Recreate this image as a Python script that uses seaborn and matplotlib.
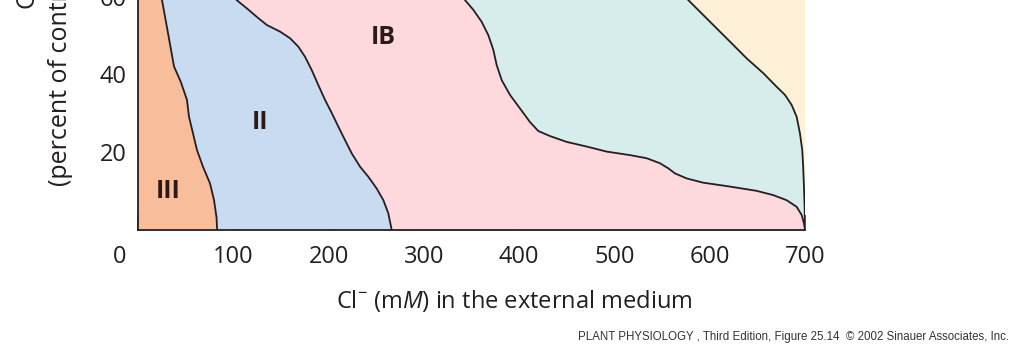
import matplotlib.pyplot as plt
import seaborn as sns
from matplotlib.transforms import ScaledTranslation

# x = Cl- (mM) in the external medium, y = growth (percent of control)
b1_x = [83.0, 82.5, 79.8, 75.6, 68.2, 61.9, 57.7, 53.5, 51.4, 45.0, 37.8, 31.5, 25.2, 24.3]
b1_y = [0.0, 3.0, 7.6, 11.9, 16.2, 20.5, 24.8, 29.1, 33.4, 38.0, 42.0, 50.6, 59.1, 60.0]

b2_x = [266.2, 262.7, 257.5, 250.5, 241.8, 233.1, 224.4, 217.4, 210.3, 203.4, 196.3,
        189.3, 182.3, 175.3, 168.3, 159.5, 149.0, 135.1, 124.6, 114.1, 103.6, 100.5]
b2_y = [0.0, 4.2, 7.6, 10.6, 13.6, 16.2, 19.6, 23.0, 26.5, 30.0, 33.4,
        37.2, 41.1, 44.5, 47.1, 49.3, 51.0, 52.7, 54.8, 57.0, 59.1, 60.0]

b3_x = [700.0, 698.9, 696.5, 691.2, 680.7, 666.7, 649.3, 621.3, 593.2, 575.8, 563.5,
        556.5, 547.8, 533.8, 516.3, 491.9, 470.9, 449.9, 432.4, 420.1, 411.4, 400.9,
        390.4, 381.7, 376.4, 372.9, 367.6, 360.7, 351.9, 343.2, 340.5]
b3_y = [0.0, 1.6, 3.8, 5.9, 7.6, 8.9, 10.0, 11.1, 12.1, 13.2, 14.5,
        15.8, 17.1, 18.4, 19.2, 20.1, 21.4, 22.6, 24.1, 25.4, 27.7, 31.2,
        34.7, 38.5, 42.4, 46.3, 50.1, 53.5, 56.6, 59.1, 60.0]

b4_x = [700.0, 699.6, 698.9, 698.1, 697.1, 694.7, 691.2, 686.0, 679.0, 670.2,
        656.2, 638.8, 621.3, 603.7, 589.8, 577.5, 574.0]
b4_y = [0.0, 5.9, 11.1, 16.2, 20.5, 24.8, 29.1, 32.1, 34.7, 36.8,
        40.3, 44.1, 48.4, 52.7, 56.1, 59.1, 60.0]

region_names = ["III", "II", "IB", "", ""]
region_colors = ["#F8BD9A", "#C9DBF1", "#FDD8DD", "#D6EDEC", "#FFF1D8"]

x_ticks = [0, 100, 200, 300, 400, 500, 600, 700]
y_ticks = [20, 40, 60]

ink = "#231f20"

sns.set_theme(style="ticks")
plt.rcParams["font.family"] = ["Open Sans", "DejaVu Sans"]
plt.rcParams["mathtext.fontset"] = "custom"
plt.rcParams["mathtext.rm"] = "Open Sans"
plt.rcParams["mathtext.it"] = "Open Sans:italic"

fig = plt.figure(figsize=(10.24, 3.54), dpi=100)
ax = fig.add_axes([138 / 1024, (354 - 229.7) / 354, 667 / 1024, 233.1 / 354])

# filled regions, each between two neighbouring boundaries
x_top, y_top = 700, 60
bounds = [([0, 0], [0, y_top]), (b1_x, b1_y), (b2_x, b2_y), (b3_x, b3_y),
          (b4_x, b4_y), ([x_top, x_top], [0, y_top])]
for i, col in enumerate(region_colors):
    lx, ly = bounds[i]
    rx, ry = bounds[i + 1]
    ax.fill(list(lx) + list(rx)[::-1], list(ly) + list(ry)[::-1],
            color=col, lw=0, zorder=1)

for bx, by in bounds[1:-1]:
    sns.lineplot(x=bx, y=by, sort=False, estimator=None, color=ink,
                 linewidth=1.3, ax=ax, zorder=3)

label_pos = [(31.5, 9.8), (128, 27.6), (257, 49.6)]
for name, (lx, ly) in zip(region_names, label_pos):
    ax.text(lx, ly, name, ha="center", va="center", fontsize=18,
            fontweight="bold", color="#2b1a17", zorder=4)

ax.set_xlim(0, 700)
ax.set_ylim(0, 60)
ax.set_xticks(x_ticks)
ax.set_yticks(y_ticks)
ax.tick_params(direction="in", length=10.5, width=1.1, color=ink,
               labelsize=17, labelcolor=ink)
ax.tick_params(axis="x", pad=11)
ax.tick_params(axis="y", pad=8)
sns.despine(ax=ax)
for s in ["left", "bottom"]:
    ax.spines[s].set_color(ink)
    ax.spines[s].set_linewidth(1.3)
    ax.spines[s].set_zorder(5)

# the origin label sits a little to the left of the corner
zero = ax.get_xticklabels()[0]
zero.set_transform(zero.get_transform() + ScaledTranslation(-0.18, 0, fig.dpi_scale_trans))

ax.set_xlabel(r"$\mathrm{Cl}^{-}$ (m$\mathit{M}$) in the external medium",
              fontsize=17, color=ink)
ax.xaxis.set_label_coords(0.5645, -0.252)
ax.set_ylabel("(percent of control)", fontsize=18, color=ink, ha="left")
ax.yaxis.set_label_coords(-0.0975, 0.1875)
fig.text(27 / 1024, 1 - 8 / 354, "Growth", rotation=90, ha="center", va="bottom",
         fontsize=18, color=ink)

fig.text(1009 / 1024, 1 - 337 / 354,
         "PLANT PHYSIOLOGY , Third Edition, Figure 25.14  \u00a9 2002 Sinauer Associates, Inc.",
         ha="right", va="center", family="Liberation Sans", fontsize=8.3, color="#333333")

fig.savefig("out.png", dpi=100, facecolor="white")
